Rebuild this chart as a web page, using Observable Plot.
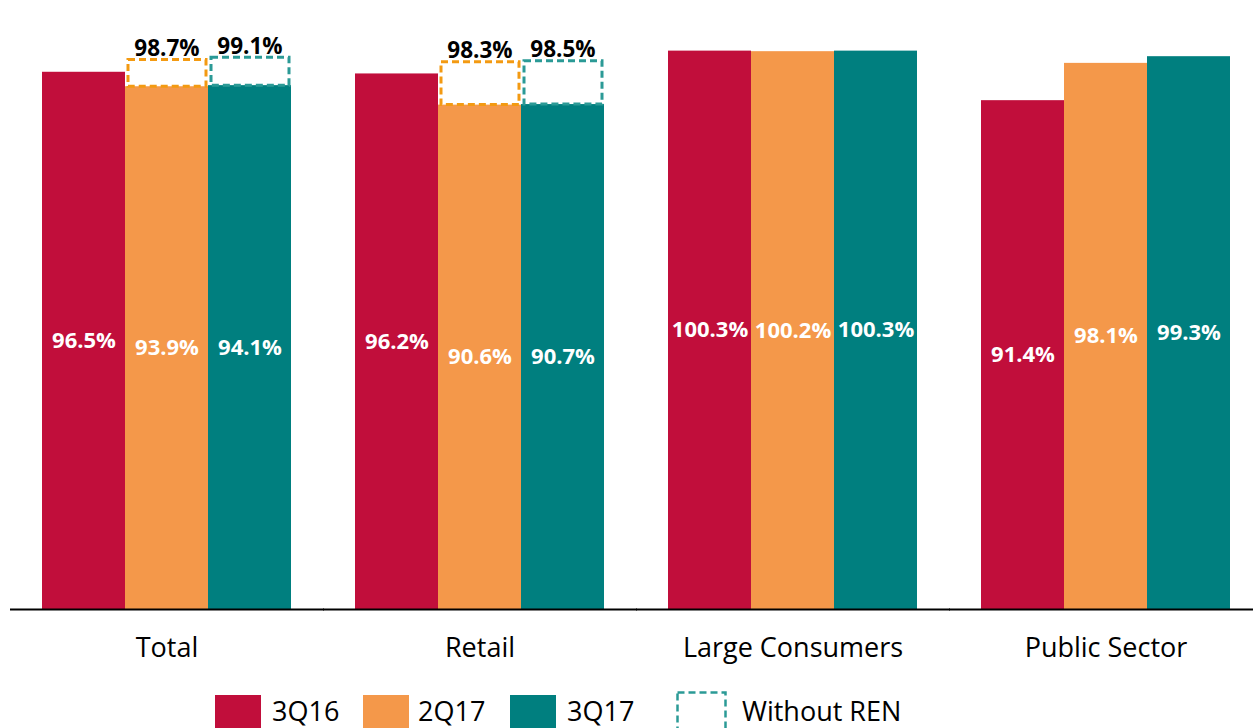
<!DOCTYPE html>
<html>
<head>
<meta charset="utf-8">
<script src="https://cdn.jsdelivr.net/npm/d3@7"></script>
<script src="https://cdn.jsdelivr.net/npm/@observablehq/plot@0.6"></script>
<style>
  html, body { margin: 0; padding: 0; background: #fff; overflow: hidden; }
  #chart { width: 1253px; }
  #legend { position: relative; height: 48px; font-family: "Open Sans", sans-serif; font-size: 27px; color: #000; }
  .sw { position: absolute; top: 15px; width: 46px; height: 40px; }
  .lt { position: absolute; top: 11px; line-height: 40px; white-space: nowrap; }
</style>
</head>
<body>
<div id="chart"></div>
<div id="legend"></div>
<script>
const categories = ["Total", "Retail", "Large Consumers", "Public Sector"];
const periods = ["3Q16", "2Q17", "3Q17"];
const values3Q16 = [96.5, 96.2, 100.3, 91.4];
const values2Q17 = [93.9, 90.6, 100.2, 98.1];
const values3Q17 = [94.1, 90.7, 100.3, 99.3];
// "Without REN" values (only Total and Retail, for 2Q17 and 3Q17)
const withoutRENCategories = ["Total", "Total", "Retail", "Retail"];
const withoutRENPeriods = ["2Q17", "3Q17", "2Q17", "3Q17"];
const withoutRENValues = [98.7, 99.1, 98.3, 98.5];

const colors = {"3Q16": "#C10E3B", "2Q17": "#F4984A", "3Q17": "#007F7F"};
const dashColors = {"2Q17": "#F39A12", "3Q17": "#2B9A96"};

const seriesValues = {"3Q16": values3Q16, "2Q17": values2Q17, "3Q17": values3Q17};
const data = [];
categories.forEach((c, i) => periods.forEach(p => data.push({category: c, period: p, value: seriesValues[p][i]})));
const ren = withoutRENValues.map((v, i) => {
  const c = withoutRENCategories[i], p = withoutRENPeriods[i];
  const base = data.find(d => d.category === c && d.period === p).value;
  return {category: c, period: p, base, value: v};
});
const fmt = v => v.toFixed(1) + "%";

const chart = Plot.plot({
  width: 1253,
  height: 680,
  marginLeft: 10,
  marginRight: -8,
  marginTop: 20,
  marginBottom: 71,
  style: {fontFamily: "Open Sans, sans-serif", fontSize: "27px", color: "#000", background: "#fff"},
  fx: {domain: categories, paddingInner: 0.2053, paddingOuter: 0.1, axis: "bottom", tickSize: 0, tickPadding: 28, label: null},
  x: {domain: periods, padding: 0, axis: null},
  y: {domain: [0, 105.8], axis: null},
  marks: [
    Plot.barY(data, {fx: "category", x: "period", y: "value", fill: d => colors[d.period]}),
    Plot.barY(ren, {fx: "category", x: "period", y1: "base", y2: "value", fill: "none",
      stroke: d => dashColors[d.period], strokeWidth: 3, strokeDasharray: "7,4", insetLeft: 3, insetRight: 2}),
    Plot.text(data, {fx: "category", x: "period", y: d => d.value / 2, text: d => fmt(d.value),
      fill: "white", fontWeight: "bold", fontSize: 22}),
    Plot.text(ren, {fx: "category", x: "period", y: "value", text: d => fmt(d.value),
      fill: "black", fontWeight: "bold", fontSize: 22.5, lineAnchor: "bottom", dy: -4}),
    Plot.ruleY([0], {stroke: "black", strokeWidth: 2, insetLeft: -32, insetRight: -33})
  ]
});
document.getElementById("chart").appendChild(chart);

// Legend
const legend = document.getElementById("legend");
const items = [
  {label: "3Q16", sw: 215, tx: 272, type: "solid", color: colors["3Q16"]},
  {label: "2Q17", sw: 363, tx: 418, type: "solid", color: colors["2Q17"]},
  {label: "3Q17", sw: 510, tx: 567, type: "solid", color: colors["3Q17"]},
  {label: "Without REN", sw: 676, tx: 742, type: "dash", color: dashColors["3Q17"]}
];
items.forEach(it => {
  if (it.type === "solid") {
    const s = document.createElement("div");
    s.className = "sw";
    s.style.left = it.sw + "px";
    s.style.background = it.color;
    legend.appendChild(s);
  } else {
    const ns = "http://www.w3.org/2000/svg";
    const svg = document.createElementNS(ns, "svg");
    svg.setAttribute("width", 52); svg.setAttribute("height", 48);
    svg.style.position = "absolute"; svg.style.left = it.sw + "px"; svg.style.top = "11px";
    const r = document.createElementNS(ns, "rect");
    r.setAttribute("x", 1.5); r.setAttribute("y", 1.5); r.setAttribute("width", 48); r.setAttribute("height", 44);
    r.setAttribute("fill", "none"); r.setAttribute("stroke", it.color);
    r.setAttribute("stroke-width", 2.5); r.setAttribute("stroke-dasharray", "7,4");
    svg.appendChild(r);
    legend.appendChild(svg);
  }
  const t = document.createElement("div");
  t.className = "lt";
  t.style.left = it.tx + "px";
  t.textContent = it.label;
  legend.appendChild(t);
});
</script>
</body>
</html>
